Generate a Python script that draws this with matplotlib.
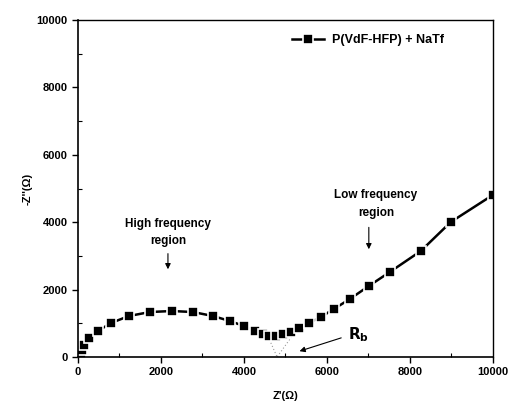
import matplotlib.pyplot as plt
from matplotlib.ticker import MultipleLocator

plt.rcParams['font.family'] = ['Liberation Sans', 'DejaVu Sans']
plt.rcParams['font.weight'] = 'bold'

# impedance data
z_re = [72, 96, 145, 265, 482, 795, 1229, 1735, 2265, 2771, 3253, 3663, 4000,
        4265, 4458, 4602, 4771, 4940, 5133, 5325, 5566, 5855, 6169, 6554,
        7012, 7518, 8265, 8988, 10000]
z_im = [119, 208, 356, 564, 772, 1009, 1217, 1335, 1365, 1335, 1217, 1068, 920,
        772, 682, 623, 623, 682, 742, 875, 1009, 1187, 1424, 1721,
        2107, 2522, 3145, 4006, 4807]

# dotted semicircle extrapolation towards Rb
fit1_x = [4650, 4800]
fit1_y = [420, 0]
fit2_x = [5150, 4800]
fit2_y = [600, 0]

fig = plt.figure(figsize=(5.08, 4.05), dpi=100)
ax = fig.add_axes([0.1535, 0.1185, 0.8165, 0.832])

ax.plot(fit1_x, fit1_y, ls=(0, (1, 2)), color='#999999', lw=0.8)
ax.plot(fit2_x, fit2_y, ls=(0, (1, 2)), color='#999999', lw=0.8)
ax.plot(z_re, z_im, color='black', lw=1.8, marker='s', ms=6.8,
        mfc='black', mec='white', mew=1.2, label='P(VdF-HFP) + NaTf')

ax.set_xlim(0, 10000)
ax.set_ylim(0, 10000)
ax.xaxis.set_major_locator(MultipleLocator(2000))
ax.xaxis.set_minor_locator(MultipleLocator(1000))
ax.yaxis.set_major_locator(MultipleLocator(2000))
ax.yaxis.set_minor_locator(MultipleLocator(1000))
ax.tick_params(which='major', direction='out', length=4, width=1, labelsize=8)
ax.tick_params(which='minor', direction='in', length=3, width=0.8)
ax.tick_params(which='both', top=False, right=False)
for side in ['left', 'bottom']:
    ax.spines[side].set_linewidth(1.2)
for side in ['top', 'right']:
    ax.spines[side].set_linewidth(1.0)
for lbl in ax.get_xticklabels() + ax.get_yticklabels():
    lbl.set_fontweight('bold')

ax.set_xlabel("Z'(\u03a9)", fontsize=8, fontweight='bold', labelpad=10)
ax.set_ylabel("-Z''(\u03a9)", fontsize=8, fontweight='bold', labelpad=3)

ax.text(2169, 3700, 'High frequency\nregion', ha='center', va='center',
        fontsize=8.5, fontweight='bold', linespacing=1.6)
ax.annotate('', xy=(2169, 2522), xytext=(2169, 3150),
            arrowprops=dict(arrowstyle='-|>', color='black', lw=0.8,
                            mutation_scale=8))
ax.text(7181, 4540, 'Low frequency\nregion', ha='center', va='center',
        fontsize=8.5, fontweight='bold', linespacing=1.6)
ax.annotate('', xy=(7012, 3116), xytext=(7012, 3930),
            arrowprops=dict(arrowstyle='-|>', color='black', lw=0.8,
                            mutation_scale=8))
ax.text(6770, 650, r'$\mathbf{R_b}$', ha='center', va='center', fontsize=11)
ax.annotate('', xy=(5277, 148), xytext=(6410, 593),
            arrowprops=dict(arrowstyle='-|>', color='black', lw=0.8,
                            mutation_scale=8))

leg = ax.legend(loc='center left', bbox_to_anchor=(0.515, 0.941), frameon=False,
                fontsize=9, handlelength=2.6, handletextpad=0.6,
                borderaxespad=0, borderpad=0)
for t in leg.get_texts():
    t.set_fontweight('bold')

fig.savefig('out.png', dpi=100)
